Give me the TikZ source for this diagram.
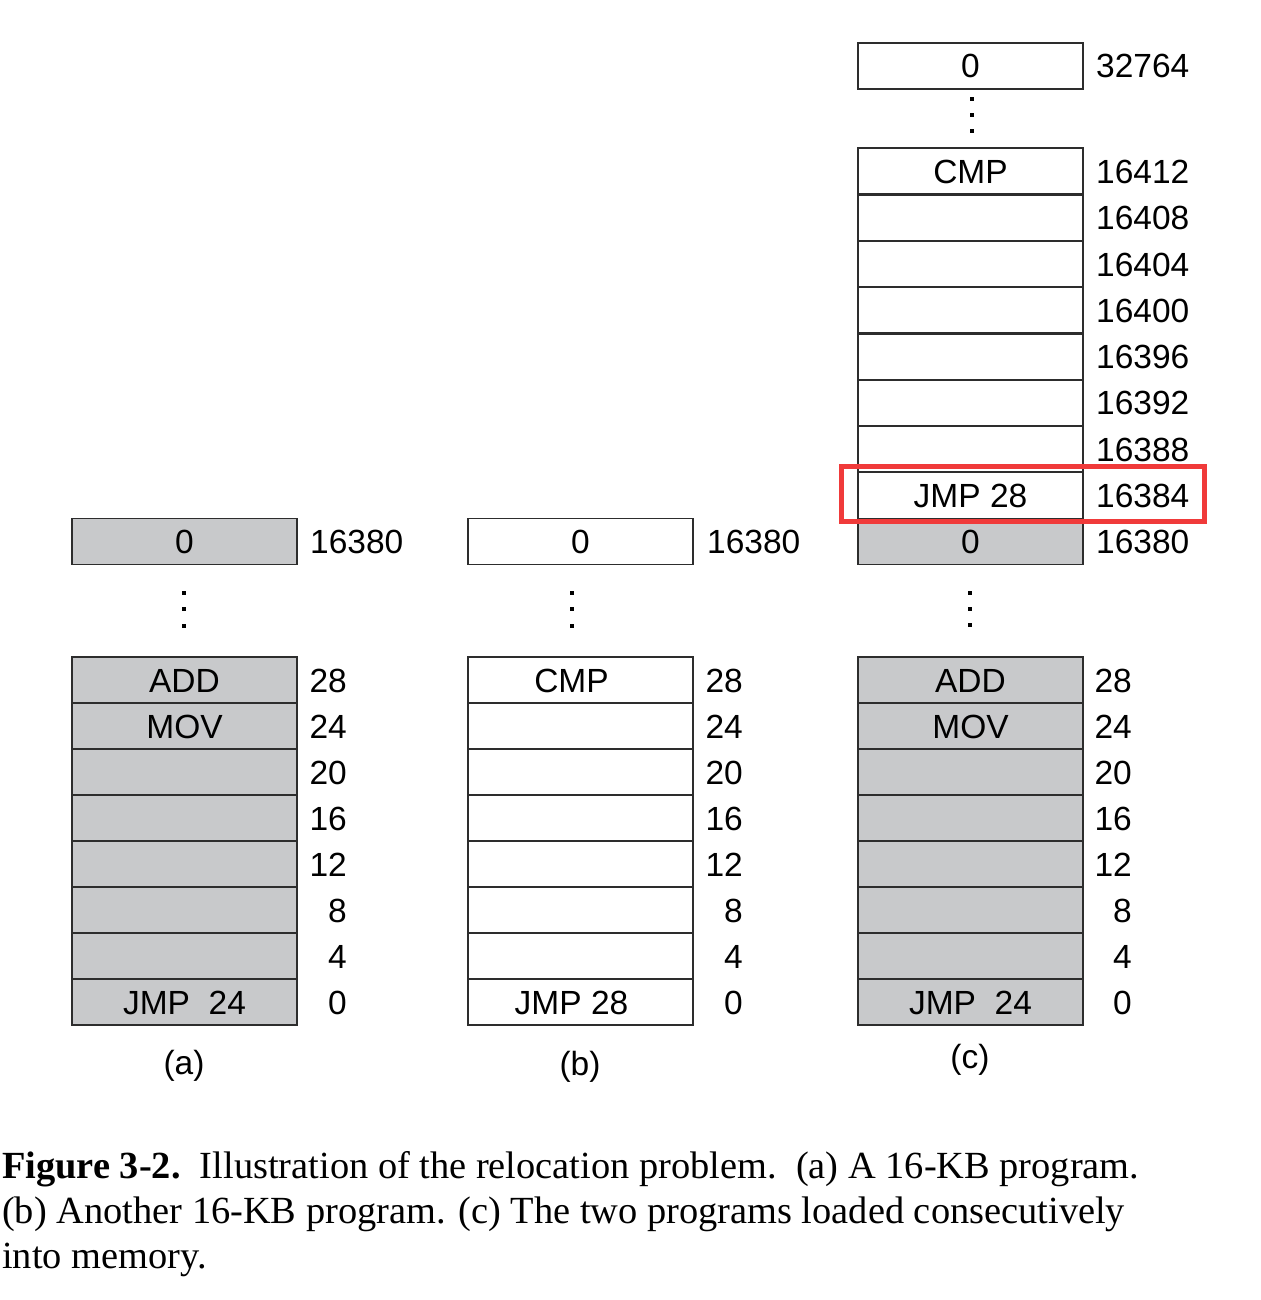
\documentclass[tikz,border=0pt]{standalone}
\usepackage{fontspec}
\setmainfont{Liberation Serif}
\newfontfamily\helv{Liberation Sans}
\definecolor{cellgray}{RGB}{200,201,203}
\definecolor{lineclr}{RGB}{45,45,45}
\definecolor{hlred}{RGB}{240,58,58}
\newcommand{\cellshiftleft}[1]{\hspace*{-18pt}#1}
\begin{document}
\begin{tikzpicture}[x=1pt,y=-1pt,
  cell/.style={draw=lineclr,line width=1.9pt,minimum width=225pt,minimum height=46pt,
    inner sep=0pt,font=\helv\fontsize{33.5}{36}\selectfont,text height=24pt,text depth=0pt},
  gcell/.style={cell,fill=cellgray},
  wcell/.style={cell,fill=white},
  addr/.style={inner sep=0pt,font=\helv\fontsize{33.5}{36}\selectfont,text height=24pt,text depth=0pt},
  dotsq/.style={fill=black,inner sep=0pt,minimum size=3.6pt},
  captxt/.style={inner sep=0pt,anchor=base west,font=\fontsize{38.4}{45}\selectfont},
  sub/.style={inner sep=0pt,font=\helv\fontsize{33.5}{36}\selectfont}]
\useasboundingbox (0,0) rectangle (1260,1300);

% ---------- column (a) ----------
\node[gcell] (atop) at (184.5,541.5) {0};
\node[addr,anchor=west] (latop) at (310,541.5) {16380};
\node[dotsq] (ad1) at (184,593) {};
\node[dotsq] (ad2) at (184,609) {};
\node[dotsq] (ad3) at (184,626) {};
\foreach \i/\t/\l in {0/JMP\ \ 24/0,1//4,2//8,3//12,4//16,5//20,6/MOV/24,7/ADD/28}{
  \node[gcell] (a\i) at (184.5,{1002-46*\i}) {\t};
  \node[addr,anchor=east] (la\i) at (347,{1002-46*\i}) {\l};
}
\node[sub] (suba) at (184,1066) {(a)};

% ---------- column (b) ----------
\node[wcell] (btop) at (580.5,541.5) {0};
\node[addr,anchor=west] (lbtop) at (707,541.5) {16380};
\node[dotsq] (bd1) at (572,593) {};
\node[dotsq] (bd2) at (572,609) {};
\node[dotsq] (bd3) at (572,626) {};
\foreach \i/\t/\l in {0/\cellshiftleft{JMP 28}/0,1//4,2//8,3//12,4//16,5//20,6//24,7/\cellshiftleft{CMP}/28}{
  \node[wcell] (b\i) at (580.5,{1002-46*\i}) {\t};
  \node[addr,anchor=east] (lb\i) at (743,{1002-46*\i}) {\l};
}
\node[sub] (subb) at (580,1067) {(b)};

% ---------- column (c) ----------
\foreach \i/\t/\l in {0/JMP\ \ 24/0,1//4,2//8,3//12,4//16,5//20,6/MOV/24,7/ADD/28}{
  \node[gcell] (c\i) at (970.5,{1002-46*\i}) {\t};
  \node[addr,anchor=east] (lc\i) at (1132,{1002-46*\i}) {\l};
}
\node[dotsq] (cd1) at (970,593) {};
\node[dotsq] (cd2) at (970,609) {};
\node[dotsq] (cd3) at (970,625) {};
\node[gcell] (ctop) at (970.5,541.5) {0};
\node[addr,anchor=west] (lctop) at (1096,541.5) {16380};
\foreach \i/\t/\l in {0/JMP 28/16384,1//16388,2//16392,3//16396,4//16400,5//16404,6//16408,7/CMP/16412}{
  \node[wcell] (u\i) at (970.5,{495.5-46.3*\i}) {\t};
  \node[addr,anchor=west] (lu\i) at (1096,{495.5-46.3*\i}) {\l};
}
\node[dotsq] (ud1) at (972,99) {};
\node[dotsq] (ud2) at (972,115) {};
\node[dotsq] (ud3) at (972,131) {};
\node[wcell] (uhigh) at (970.5,66) {0};
\node[addr,anchor=west] (luhigh) at (1096,66) {32764};
\node[sub] (subc) at (970,1060) {(c)};

% highlight
\node[draw=hlred,line width=5pt,minimum width=363pt,minimum height=55pt,inner sep=0pt]
  (hl) at (1022.5,494) {};

% ---------- caption ----------
\node[captxt] (cap1) at (2,1178) {\textbf{Figure 3-2.}\ \ Illustration of the relocation problem.\ \ (a) A 16-KB program.};
\node[captxt] (cap2) at (2,1223) {(b) Another 16-KB program. (c) The two programs loaded consecutively};
\node[captxt] (cap3) at (2,1268) {into memory.};
\end{tikzpicture}
\end{document}
